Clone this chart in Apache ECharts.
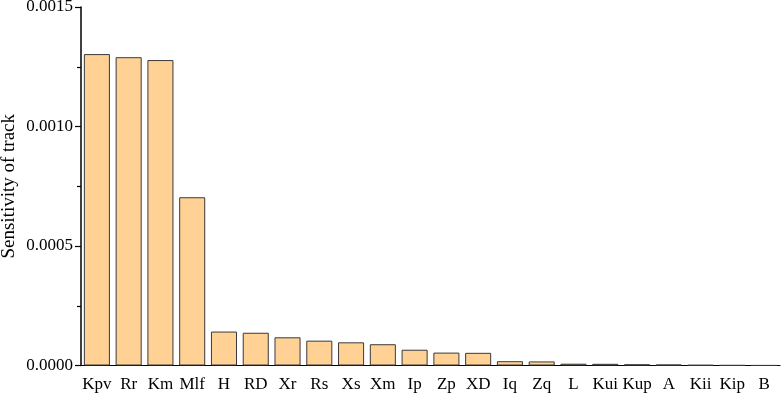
<!DOCTYPE html>
<html><head><meta charset="utf-8">
<script src="https://cdn.jsdelivr.net/npm/echarts@6/dist/echarts.min.js"></script>
<style>html,body{margin:0;padding:0;background:#fff}#c{width:782px;height:394px}</style>
</head><body><div id="c"></div>
<script>
const categories = ['Kpv','Rr','Km','Mlf','H','RD','Xr','Rs','Xs','Xm','Ip','Zp','XD','Iq','Zq','L','Kui','Kup','A','Kii','Kip','B'];
const values = [0.001303,0.00129,0.001278,0.000704,0.000142,0.000137,0.000118,0.000104,0.000097,0.000089,0.000066,0.000054,0.000053,0.000018,0.000017,0.0000075,0.000007,0.000005,0.000004,0.000002,0.000001,0.0000005];
const yTicks = [0, 0.0005, 0.001, 0.0015];
const font = 'Liberation Serif, Times New Roman, serif';
const chart = echarts.init(document.getElementById('c'));
chart.setOption({
  animation:false,
  grid:{left:81,right:2,top:7,bottom:28.5,containLabel:false,outerBoundsMode:'none'},
  xAxis:{type:'category',data:categories,
    axisLine:{lineStyle:{color:'#000',width:1.2}},
    axisTick:{alignWithLabel:true,length:5,lineStyle:{color:'#000',width:1.2}},
    axisLabel:{color:'#000',fontFamily:font,fontSize:17,margin:11,interval:0}},
  yAxis:{type:'value',min:0,max:0.0015,interval:0.0005,
    name:'Sensitivity of track',nameLocation:'middle',nameGap:62,nameMoveOverlap:false,
    nameTextStyle:{color:'#000',fontFamily:font,fontSize:19},
    axisLine:{show:true,lineStyle:{color:'#000',width:1.5}},
    axisTick:{show:true,length:6,lineStyle:{color:'#000',width:1.2}},
    minorTick:{show:true,splitNumber:2,length:4,lineStyle:{color:'#000',width:1.2}},
    splitLine:{show:false},
    axisLabel:{color:'#000',fontFamily:font,fontSize:17,margin:8,
      formatter:v=>v.toFixed(4)}},
  series:[{type:'bar',data:values,barCategoryGap:'18%',
    itemStyle:{color:'#FFD194',borderColor:'#3a3a3a',borderWidth:1}}]
});
</script></body></html>
